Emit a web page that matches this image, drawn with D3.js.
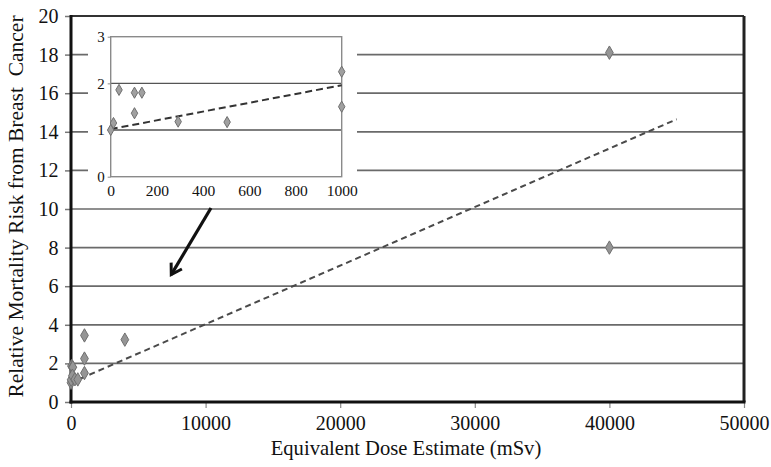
<!DOCTYPE html>
<html>
<head>
<meta charset="utf-8">
<script src="https://cdn.jsdelivr.net/npm/d3@7"></script>
<style>
  html, body { margin: 0; padding: 0; background: #fff; }
  svg { display: block; }
  text { font-family: "Liberation Serif", "Times New Roman", serif; fill: #111; }
</style>
</head>
<body>
<svg id="chart" width="771" height="467"></svg>
<script>
// ---- data ----
const doseX = [0, 12, 36, 103, 135, 103, 292, 504, 1000, 1000, 1000, 4000, 40000, 40000];
const riskY = [1.0, 1.15, 1.86, 1.8, 1.8, 1.36, 1.18, 1.17, 2.25, 1.5, 3.45, 3.23, 18.1, 8.0];
const trendX = [0, 45000];
const trendY = [1.0, 14.65];
const insetTrendX = [0, 1000];
const insetTrendY = [1.02, 1.96];
const mainXTicks = [0, 10000, 20000, 30000, 40000, 50000];
const mainYTicks = [0, 2, 4, 6, 8, 10, 12, 14, 16, 18, 20];
const insetXTicks = [0, 200, 400, 600, 800, 1000];
const insetYTicks = [0, 1, 2, 3];
const arrowX = [10400, 7450];
const arrowY = [10.05, 6.6];
const xTitle = "Equivalent Dose Estimate (mSv)";
const yTitle = "Relative Mortality Risk from Breast\u00a0\u00a0Cancer";

const svg = d3.select("#chart");
const points = doseX.map((x, i) => ({ x, y: riskY[i] }));

// ---- main scales ----
const x = d3.scaleLinear().domain([0, 50000]).range([71, 744]);
const y = d3.scaleLinear().domain([0, 20]).range([402, 16]);

// gridlines
svg.append("g").selectAll("line")
  .data(mainYTicks.filter(d => d > 0 && d < 20))
  .join("line")
  .attr("x1", x(0)).attr("x2", x(50000))
  .attr("y1", d => y(d)).attr("y2", d => y(d))
  .attr("stroke", "#6a6a6a").attr("stroke-width", 1.7);

// top & right border
svg.append("line").attr("x1", x(0)).attr("x2", x(50000)).attr("y1", y(20)).attr("y2", y(20))
  .attr("stroke", "#333").attr("stroke-width", 2);
svg.append("line").attr("x1", x(50000)).attr("x2", x(50000)).attr("y1", y(20)).attr("y2", y(0))
  .attr("stroke", "#222").attr("stroke-width", 3);

// axes
const xAxis = svg.append("g").attr("transform", `translate(0,${y(0)})`)
  .call(d3.axisBottom(x).tickValues(mainXTicks).tickFormat(d3.format("d")).tickSize(6).tickPadding(8));
xAxis.select(".domain").remove();
xAxis.selectAll(".tick line").attr("stroke", "#888").attr("stroke-width", 1.2);
xAxis.selectAll("text").attr("font-size", 20).attr("font-family", "Liberation Serif").attr("fill", "#111");

const yAxis = svg.append("g").attr("transform", `translate(${x(0)},0)`)
  .call(d3.axisLeft(y).tickValues(mainYTicks).tickFormat(d3.format("d")).tickSize(6).tickPadding(6.5));
yAxis.select(".domain").remove();
yAxis.selectAll(".tick line").attr("stroke", "#777").attr("stroke-width", 1.5);
yAxis.selectAll("text").attr("font-size", 20).attr("font-family", "Liberation Serif").attr("fill", "#111");

svg.append("line").attr("x1", x(0) - 1.5).attr("x2", x(50000) + 1.5).attr("y1", y(0)).attr("y2", y(0))
  .attr("stroke", "#111").attr("stroke-width", 3);
svg.append("line").attr("x1", x(0)).attr("x2", x(0)).attr("y1", y(20) - 1).attr("y2", y(0) + 1.5)
  .attr("stroke", "#111").attr("stroke-width", 3);

// trend line
svg.append("line")
  .attr("x1", x(trendX[0])).attr("y1", y(trendY[0]))
  .attr("x2", x(trendX[1])).attr("y2", y(trendY[1]))
  .attr("stroke", "#4a4a4a").attr("stroke-width", 2).attr("stroke-dasharray", "6,4");

// diamonds
const diamond = d3.symbol().type(d3.symbolDiamond);
svg.append("g").selectAll("path")
  .data(points)
  .join("path")
  .attr("d", diamond.size(52))
  .attr("transform", d => `translate(${x(d.x)},${y(d.y)})`)
  .attr("fill", "#959595").attr("stroke", "#6f6f6f").attr("stroke-width", 1);

// ---- inset ----
const ix = d3.scaleLinear().domain([0, 1000]).range([110.7, 341.7]);
const iy = d3.scaleLinear().domain([0, 3]).range([176.7, 36.7]);

svg.append("rect").attr("x", 88).attr("y", 22).attr("width", 269).attr("height", 178)
  .attr("fill", "#fff");

// inset gridlines
svg.append("g").selectAll("line")
  .data(insetYTicks.filter(d => d > 0 && d < 3))
  .join("line")
  .attr("x1", ix(0)).attr("x2", ix(1000))
  .attr("y1", d => iy(d)).attr("y2", d => iy(d))
  .attr("stroke", "#555").attr("stroke-width", 1.4);

// inset frame
svg.append("rect").attr("x", ix(0)).attr("y", iy(3))
  .attr("width", ix(1000) - ix(0)).attr("height", iy(0) - iy(3))
  .attr("fill", "none").attr("stroke", "#8a8a8a").attr("stroke-width", 1.4);

const ixAxis = svg.append("g").attr("transform", `translate(0,${iy(0)})`)
  .call(d3.axisBottom(ix).tickValues(insetXTicks).tickFormat(d3.format("d")).tickSize(0).tickPadding(8));
ixAxis.select(".domain").remove();
ixAxis.selectAll("text").attr("font-size", 15.5).attr("font-family", "Liberation Serif").attr("fill", "#111");

const iyAxis = svg.append("g").attr("transform", `translate(${ix(0)},0)`)
  .call(d3.axisLeft(iy).tickValues(insetYTicks).tickFormat(d3.format("d")).tickSize(3).tickPadding(3));
iyAxis.select(".domain").remove();
iyAxis.selectAll(".tick line").attr("stroke", "#8a8a8a");
iyAxis.selectAll("text").attr("font-size", 15).attr("font-family", "Liberation Serif").attr("fill", "#111");

// inset trend
svg.append("line")
  .attr("x1", ix(insetTrendX[0])).attr("y1", iy(insetTrendY[0]))
  .attr("x2", ix(insetTrendX[1])).attr("y2", iy(insetTrendY[1]))
  .attr("stroke", "#333").attr("stroke-width", 2).attr("stroke-dasharray", "7,4");

svg.append("g").selectAll("path")
  .data(points.filter(d => d.x <= 1000 && d.y <= 3))
  .join("path")
  .attr("d", diamond.size(36))
  .attr("transform", d => `translate(${ix(d.x)},${iy(d.y)})`)
  .attr("fill", "#a0a0a0").attr("stroke", "#6f6f6f").attr("stroke-width", 1);

// ---- arrow ----
const ax0 = x(arrowX[0]), ay0 = y(arrowY[0]), ax1 = x(arrowX[1]), ay1 = y(arrowY[1]);
svg.append("line").attr("x1", ax0).attr("y1", ay0).attr("x2", ax1).attr("y2", ay1)
  .attr("stroke", "#111").attr("stroke-width", 3.2);
const ang = Math.atan2(ay0 - ay1, ax0 - ax1);
const headLen = 12, spread = 0.55;
const hp = d3.path();
hp.moveTo(ax1 + headLen * Math.cos(ang + spread), ay1 + headLen * Math.sin(ang + spread));
hp.lineTo(ax1, ay1);
hp.lineTo(ax1 + headLen * Math.cos(ang - spread), ay1 + headLen * Math.sin(ang - spread));
svg.append("path").attr("d", hp.toString()).attr("fill", "none")
  .attr("stroke", "#111").attr("stroke-width", 3).attr("stroke-linejoin", "miter");

// ---- titles ----
svg.append("text").attr("x", 406).attr("y", 455).attr("text-anchor", "middle")
  .attr("font-size", 20.6).text(xTitle);
svg.append("text").attr("transform", "translate(22.5,206.5) rotate(-90)").attr("text-anchor", "middle")
  .attr("font-size", 21.5).text(yTitle);
</script>
</body>
</html>
